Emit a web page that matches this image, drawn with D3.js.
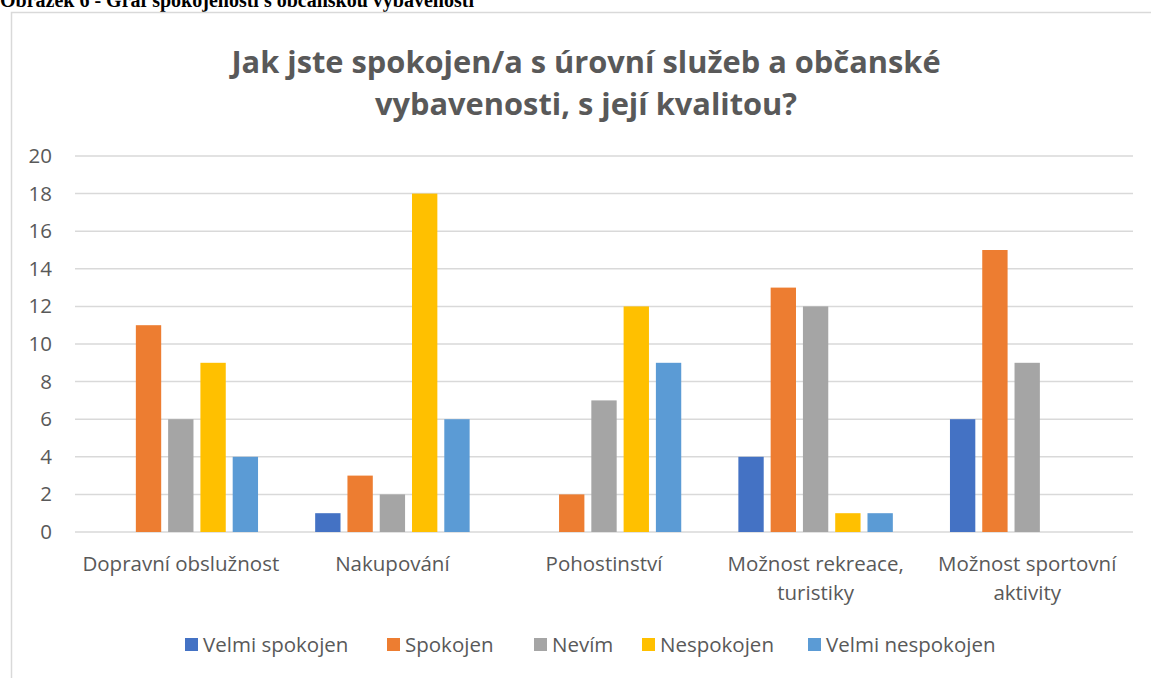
<!DOCTYPE html>
<html>
<head>
<meta charset="utf-8">
<script src="https://cdn.jsdelivr.net/npm/d3@7"></script>
<style>
body { margin: 0; background: #fff; }
svg { display: block; }
</style>
</head>
<body>
<div id="chart"></div>
<script>
// data
var categories = [
    ["Dopravní obslužnost"],
    ["Nakupování"],
    ["Pohostinství"],
    ["Možnost rekreace,", "turistiky"],
    ["Možnost sportovní", "aktivity"]
];
var seriesNames = ["Velmi spokojen", "Spokojen", "Nevím", "Nespokojen", "Velmi nespokojen"];
var velmiSpokojen = [0, 1, 0, 4, 6];
var spokojen = [11, 3, 2, 13, 15];
var nevim = [6, 2, 7, 12, 9];
var nespokojen = [9, 18, 12, 1, 0];
var velmiNespokojen = [4, 6, 9, 1, 0];
var yTicks = [0, 2, 4, 6, 8, 10, 12, 14, 16, 18, 20];
var colors = ["#4472C4", "#ED7D31", "#A5A5A5", "#FFC000", "#5B9BD5"];

var seriesValues = [velmiSpokojen, spokojen, nevim, nespokojen, velmiNespokojen];

var svgWidth = 1151;
var svgHeight = 678;
var margin = {top: 156, right: 18, bottom: 146, left: 75};
var chartWidth = 1133 - margin.left;
var chartHeight = 532 - margin.top;
var textColor = "#595959";
var font = "'Open Sans', sans-serif";
var labelSize = "20.5px";

var svg = d3.select("#chart")
            .append("svg")
            .attr("width", svgWidth)
            .attr("height", svgHeight);

// caption above the chart box (cut off at the top in the reference)
svg.append("text")
    .attr("x", 0)
    .attr("y", 7)
    .style("font-family", "'Liberation Serif', serif")
    .style("font-weight", "bold")
    .style("font-size", "20px")
    .attr("fill", "#000")
    .text("Obrázek 6 - Graf spokojenosti s občanskou vybaveností");

// chart frame
svg.append("path")
    .attr("d", "M11.5,678 L11.5,12.5 L1151,12.5")
    .attr("fill", "none")
    .attr("stroke", "#d9d9d9")
    .attr("stroke-width", 1.5);

// title
var title = svg.append("text")
    .attr("text-anchor", "middle")
    .style("font-family", font)
    .style("font-weight", "bold")
    .style("font-size", "30.8px")
    .attr("fill", textColor);
title.append("tspan").attr("x", 586).attr("y", 73).text("Jak jste spokojen/a s úrovní služeb a občanské");
title.append("tspan").attr("x", 586).attr("y", 115).text("vybavenosti, s její kvalitou?");

var chartGroup = svg.append("g")
    .attr("transform", `translate(${margin.left}, ${margin.top})`);

var yScale = d3.scaleLinear()
    .domain([0, 20])
    .range([chartHeight, 0]);

var x0 = d3.scaleBand()
    .domain(d3.range(categories.length))
    .range([0, chartWidth])
    .paddingInner(0.27)
    .paddingOuter(0.135);

var x1 = d3.scaleBand()
    .domain(d3.range(seriesNames.length))
    .range([0, x0.bandwidth()])
    .paddingInner(0.215);

// gridlines
chartGroup.selectAll(".grid")
    .data(yTicks)
    .enter()
    .append("line")
    .attr("x1", 0)
    .attr("x2", chartWidth)
    .attr("y1", d => yScale(d))
    .attr("y2", d => yScale(d))
    .attr("stroke", "#d9d9d9")
    .attr("stroke-width", 1.5);

// y axis labels
var yAxis = d3.axisLeft(yScale).tickValues(yTicks).tickSize(0).tickPadding(23);
var yAxisG = chartGroup.append("g").call(yAxis);
yAxisG.select(".domain").remove();
yAxisG.selectAll("text")
    .style("font-family", font)
    .style("font-size", labelSize)
    .attr("fill", textColor);

// bars
var groups = chartGroup.selectAll(".cat")
    .data(categories.map((c, i) => i))
    .enter()
    .append("g")
    .attr("transform", i => `translate(${x0(i)}, 0)`);

groups.selectAll("rect")
    .data(i => seriesValues.map((vals, s) => ({s: s, v: vals[i]})))
    .enter()
    .append("rect")
    .attr("x", d => x1(d.s))
    .attr("width", x1.bandwidth())
    .attr("y", d => yScale(d.v))
    .attr("height", d => chartHeight - yScale(d.v))
    .attr("fill", d => colors[d.s]);

// category labels
var catText = chartGroup.selectAll(".catlabel")
    .data(categories)
    .enter()
    .append("text")
    .attr("text-anchor", "middle")
    .style("font-family", font)
    .style("font-size", labelSize)
    .attr("fill", textColor);
catText.each(function(lines, i) {
    var t = d3.select(this);
    lines.forEach(function(line, j) {
        t.append("tspan")
            .attr("x", x0(i) + x0.bandwidth() / 2)
            .attr("y", chartHeight + 39 + j * 29)
            .text(line);
    });
});

// legend
var legendX = [185, 387, 534, 642, 808];
var legend = svg.selectAll(".legend")
    .data(seriesNames)
    .enter()
    .append("g")
    .attr("transform", (d, i) => `translate(${legendX[i]}, 638)`);
legend.append("rect")
    .attr("width", 13)
    .attr("height", 13)
    .attr("fill", (d, i) => colors[i]);
legend.append("text")
    .attr("x", 18)
    .attr("y", 14)
    .style("font-family", font)
    .style("font-size", labelSize)
    .attr("fill", textColor)
    .text(d => d);
</script>
</body>
</html>
